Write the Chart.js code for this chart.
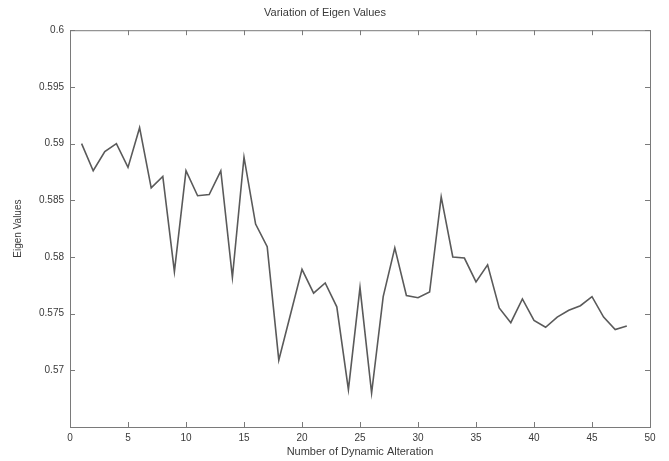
<!DOCTYPE html>
<html>
<head>
<meta charset="utf-8">
<script src="https://cdn.jsdelivr.net/npm/chart.js@4"></script>
<style>
html,body{margin:0;padding:0;background:#fff;}
#wrap{width:669px;height:461px;}
</style>
</head>
<body>
<div id="wrap"><canvas id="c" width="669" height="461"></canvas></div>
<script>
const iterations = [1,2,3,4,5,6,7,8,9,10,11,12,13,14,15,16,17,18,19,20,21,22,23,24,25,26,27,28,29,30,31,32,33,34,35,36,37,38,39,40,41,42,43,44,45,46,47,48];
const eigenValues = [0.5900,0.5876,0.5893,0.5900,0.5879,0.5914,0.5861,0.5871,0.5787,0.5876,0.5854,0.5855,0.5876,0.5782,0.5888,0.5829,0.5809,0.5709,0.5749,0.5789,0.5768,0.5777,0.5756,0.5683,0.5773,0.5680,0.5765,0.5808,0.5766,0.5764,0.5769,0.5853,0.5800,0.5799,0.5778,0.5793,0.5755,0.5742,0.5763,0.5744,0.5738,0.5747,0.5753,0.5757,0.5765,0.5747,0.5736,0.5739];
const xTicks = [0,5,10,15,20,25,30,35,40,45,50];
const yTicks = [0.565,0.57,0.575,0.58,0.585,0.59,0.595,0.6];
const titleText = "Variation of Eigen Values";
const xTitle = "Number of Dynamic Alteration";
const yTitle = "Eigen Values";

const points = iterations.map((x,i)=>({x:x,y:eigenValues[i]}));
const FONT = "'Liberation Sans', Arial, sans-serif";
const TXT = '#3a3a3a';
const AXIS = '#7a7a7a';

const boxTicks = {
  id:'boxTicks',
  afterDraw(chart){
    const {ctx, chartArea:a, scales} = chart;
    ctx.save();
    ctx.strokeStyle = AXIS;
    ctx.lineWidth = 1;
    ctx.strokeRect(a.left+0.5, a.top+0.5, a.right-a.left, a.bottom-a.top);
    const L = 5;
    ctx.beginPath();
    xTicks.forEach(v=>{
      const px = Math.round(scales.x.getPixelForValue(v))+0.5;
      ctx.moveTo(px, a.bottom); ctx.lineTo(px, a.bottom-L);
      ctx.moveTo(px, a.top); ctx.lineTo(px, a.top+L);
    });
    yTicks.forEach(v=>{
      const py = Math.round(scales.y.getPixelForValue(v))+0.5;
      ctx.moveTo(a.left, py); ctx.lineTo(a.left+L, py);
      ctx.moveTo(a.right, py); ctx.lineTo(a.right-L, py);
    });
    ctx.stroke();
    ctx.restore();
  }
};

new Chart(document.getElementById('c'), {
  type:'line',
  data:{datasets:[{
    data: points,
    borderColor:'#5a5a5a',
    borderWidth:1.6,
    pointRadius:0,
    tension:0,
    fill:false
  }]},
  options:{
    responsive:false,
    animation:false,
    layout:{padding:{left:0,right:19,top:0,bottom:0}},
    plugins:{
      legend:{display:false},
      tooltip:{enabled:false},
      title:{display:true,text:titleText,color:TXT,font:{family:FONT,size:11,weight:'normal'},padding:{top:6,bottom:11}}
    },
    scales:{
      x:{
        type:'linear',min:0,max:50,
        afterBuildTicks(s){ s.ticks = xTicks.map(v=>({value:v})); },
        afterFit(s){ s.height = 34; },
        grid:{display:false,drawTicks:false},
        border:{display:false},
        ticks:{color:TXT,font:{family:FONT,size:10},padding:5,maxRotation:0,autoSkip:false},
        title:{display:true,text:xTitle,color:TXT,font:{family:FONT,size:11},padding:{top:1,bottom:2}}
      },
      y:{
        type:'linear',min:0.565,max:0.6,
        afterBuildTicks(s){ s.ticks = yTicks.map(v=>({value:v})); },
        afterFit(s){ s.width = 70; },
        grid:{display:false,drawTicks:false},
        border:{display:false},
        ticks:{color:TXT,font:{family:FONT,size:10},padding:6,autoSkip:false,
          callback(v){ return Math.abs(v-0.565)<1e-9 ? '' : String(Number(v.toFixed(3))); }},
        title:{display:true,text:yTitle,color:TXT,font:{family:FONT,size:10},padding:{top:12,bottom:4}}
      }
    }
  },
  plugins:[boxTicks]
});
</script>
</body>
</html>
